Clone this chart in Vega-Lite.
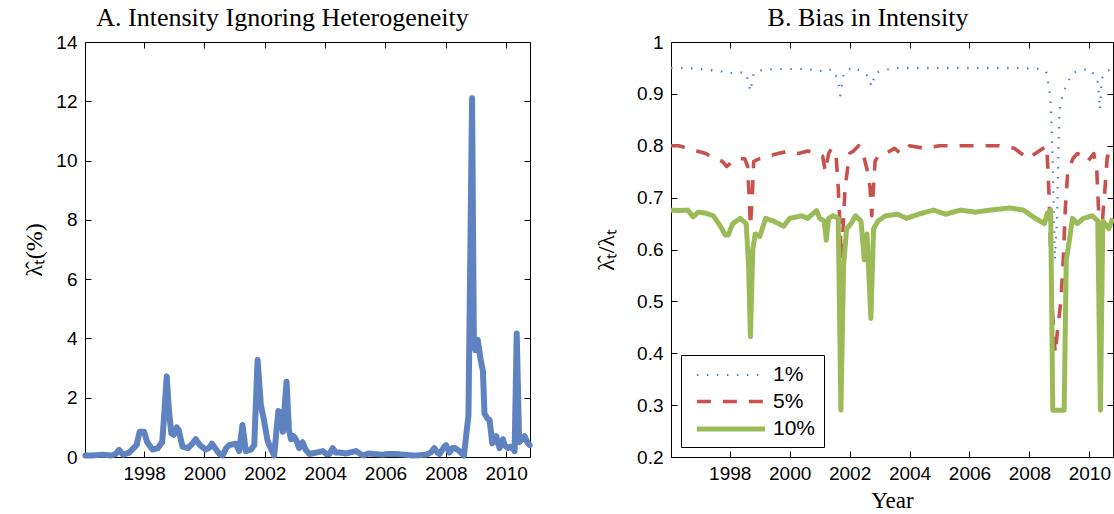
{
  "$schema": "https://vega.github.io/schema/vega-lite/v6.json",
  "description": "Intensity ignoring heterogeneity and bias in intensity, 1996-2010.",
  "background": "white",
  "padding": {"left": 22, "top": 4, "right": 4, "bottom": 0},
  "datasets": {
    "intensity": [
      {"t": 1996.05, "v": 0.05}, {"t": 1996.3, "v": 0.05}, {"t": 1996.6, "v": 0.08}, {"t": 1996.9, "v": 0.05},
      {"t": 1997.05, "v": 0.1}, {"t": 1997.17, "v": 0.24}, {"t": 1997.3, "v": 0.08}, {"t": 1997.5, "v": 0.15},
      {"t": 1997.65, "v": 0.3}, {"t": 1997.75, "v": 0.4}, {"t": 1997.85, "v": 0.85}, {"t": 1998.0, "v": 0.85},
      {"t": 1998.1, "v": 0.5}, {"t": 1998.28, "v": 0.25}, {"t": 1998.45, "v": 0.3}, {"t": 1998.6, "v": 0.5},
      {"t": 1998.67, "v": 1.5}, {"t": 1998.75, "v": 2.72}, {"t": 1998.82, "v": 1.6}, {"t": 1998.9, "v": 0.8},
      {"t": 1998.98, "v": 0.75}, {"t": 1999.08, "v": 1.0}, {"t": 1999.15, "v": 0.9}, {"t": 1999.27, "v": 0.35},
      {"t": 1999.45, "v": 0.3}, {"t": 1999.6, "v": 0.45}, {"t": 1999.71, "v": 0.6}, {"t": 1999.85, "v": 0.4},
      {"t": 2000.04, "v": 0.25}, {"t": 2000.15, "v": 0.3}, {"t": 2000.25, "v": 0.45}, {"t": 2000.35, "v": 0.3},
      {"t": 2000.5, "v": 0.1}, {"t": 2000.6, "v": 0.05}, {"t": 2000.72, "v": 0.3}, {"t": 2000.82, "v": 0.4},
      {"t": 2001.04, "v": 0.45}, {"t": 2001.15, "v": 0.2}, {"t": 2001.26, "v": 1.08}, {"t": 2001.37, "v": 0.2},
      {"t": 2001.54, "v": 0.25}, {"t": 2001.65, "v": 0.4}, {"t": 2001.76, "v": 3.27}, {"t": 2001.87, "v": 1.75},
      {"t": 2001.98, "v": 1.2}, {"t": 2002.08, "v": 0.6}, {"t": 2002.15, "v": 0.4}, {"t": 2002.31, "v": 0.05},
      {"t": 2002.45, "v": 1.55}, {"t": 2002.53, "v": 1.5}, {"t": 2002.6, "v": 0.85}, {"t": 2002.72, "v": 2.54},
      {"t": 2002.8, "v": 0.9}, {"t": 2002.87, "v": 0.6}, {"t": 2002.95, "v": 0.7}, {"t": 2003.03, "v": 0.6},
      {"t": 2003.14, "v": 0.3}, {"t": 2003.25, "v": 0.5}, {"t": 2003.35, "v": 0.25}, {"t": 2003.48, "v": 0.1},
      {"t": 2003.7, "v": 0.15}, {"t": 2003.92, "v": 0.2}, {"t": 2004.05, "v": 0.1}, {"t": 2004.14, "v": 0.1},
      {"t": 2004.25, "v": 0.3}, {"t": 2004.35, "v": 0.15}, {"t": 2004.47, "v": 0.15}, {"t": 2004.7, "v": 0.12},
      {"t": 2005.02, "v": 0.2}, {"t": 2005.25, "v": 0.05}, {"t": 2005.45, "v": 0.12}, {"t": 2005.63, "v": 0.1},
      {"t": 2005.9, "v": 0.08}, {"t": 2006.1, "v": 0.1}, {"t": 2006.35, "v": 0.1}, {"t": 2006.6, "v": 0.08},
      {"t": 2006.9, "v": 0.05}, {"t": 2007.1, "v": 0.06}, {"t": 2007.35, "v": 0.08}, {"t": 2007.5, "v": 0.15},
      {"t": 2007.62, "v": 0.3}, {"t": 2007.72, "v": 0.15}, {"t": 2007.79, "v": 0.1}, {"t": 2007.95, "v": 0.35},
      {"t": 2008.01, "v": 0.4}, {"t": 2008.12, "v": 0.15}, {"t": 2008.22, "v": 0.3}, {"t": 2008.3, "v": 0.3},
      {"t": 2008.45, "v": 0.2}, {"t": 2008.6, "v": 0.05}, {"t": 2008.75, "v": 1.4}, {"t": 2008.87, "v": 12.1},
      {"t": 2008.93, "v": 3.8}, {"t": 2008.98, "v": 3.6}, {"t": 2009.06, "v": 3.95}, {"t": 2009.15, "v": 3.3},
      {"t": 2009.23, "v": 2.9}, {"t": 2009.28, "v": 1.47}, {"t": 2009.38, "v": 1.3}, {"t": 2009.45, "v": 1.25},
      {"t": 2009.54, "v": 0.46}, {"t": 2009.6, "v": 0.6}, {"t": 2009.67, "v": 0.7}, {"t": 2009.72, "v": 0.5},
      {"t": 2009.78, "v": 0.3}, {"t": 2009.84, "v": 0.45}, {"t": 2009.89, "v": 0.6}, {"t": 2009.95, "v": 0.4},
      {"t": 2010.06, "v": 0.3}, {"t": 2010.15, "v": 0.35}, {"t": 2010.22, "v": 0.3}, {"t": 2010.28, "v": 0.2},
      {"t": 2010.35, "v": 4.17}, {"t": 2010.43, "v": 0.5}, {"t": 2010.52, "v": 0.6}, {"t": 2010.61, "v": 0.7},
      {"t": 2010.7, "v": 0.5}, {"t": 2010.78, "v": 0.4}
    ],
    "bias": [
      {"s": "1%", "t": 1996.04, "v": 0.95}, {"s": "1%", "t": 1996.5, "v": 0.95}, {"s": "1%", "t": 1997.0, "v": 0.948},
      {"s": "1%", "t": 1997.5, "v": 0.945}, {"s": "1%", "t": 1997.9, "v": 0.942}, {"s": "1%", "t": 1998.0, "v": 0.94},
      {"s": "1%", "t": 1998.3, "v": 0.942}, {"s": "1%", "t": 1998.55, "v": 0.94}, {"s": "1%", "t": 1998.69, "v": 0.905},
      {"s": "1%", "t": 1998.8, "v": 0.94}, {"s": "1%", "t": 1999.0, "v": 0.945}, {"s": "1%", "t": 1999.5, "v": 0.948},
      {"s": "1%", "t": 2000.0, "v": 0.948}, {"s": "1%", "t": 2000.5, "v": 0.948}, {"s": "1%", "t": 2001.0, "v": 0.945},
      {"s": "1%", "t": 2001.2, "v": 0.942}, {"s": "1%", "t": 2001.4, "v": 0.948}, {"s": "1%", "t": 2001.6, "v": 0.93},
      {"s": "1%", "t": 2001.69, "v": 0.897}, {"s": "1%", "t": 2001.8, "v": 0.94}, {"s": "1%", "t": 2002.1, "v": 0.952},
      {"s": "1%", "t": 2002.4, "v": 0.943}, {"s": "1%", "t": 2002.6, "v": 0.935}, {"s": "1%", "t": 2002.74, "v": 0.914},
      {"s": "1%", "t": 2002.85, "v": 0.94}, {"s": "1%", "t": 2003.1, "v": 0.945}, {"s": "1%", "t": 2003.5, "v": 0.95},
      {"s": "1%", "t": 2004.5, "v": 0.95}, {"s": "1%", "t": 2005.5, "v": 0.95}, {"s": "1%", "t": 2006.5, "v": 0.95},
      {"s": "1%", "t": 2007.5, "v": 0.95}, {"s": "1%", "t": 2008.4, "v": 0.948}, {"s": "1%", "t": 2008.56, "v": 0.943},
      {"s": "1%", "t": 2008.7, "v": 0.895}, {"s": "1%", "t": 2008.78, "v": 0.767}, {"s": "1%", "t": 2008.85, "v": 0.58},
      {"s": "1%", "t": 2008.92, "v": 0.655}, {"s": "1%", "t": 2009.0, "v": 0.869}, {"s": "1%", "t": 2009.1, "v": 0.895},
      {"s": "1%", "t": 2009.25, "v": 0.92}, {"s": "1%", "t": 2009.45, "v": 0.94}, {"s": "1%", "t": 2009.7, "v": 0.946},
      {"s": "1%", "t": 2010.0, "v": 0.948}, {"s": "1%", "t": 2010.2, "v": 0.935}, {"s": "1%", "t": 2010.3, "v": 0.92},
      {"s": "1%", "t": 2010.35, "v": 0.87}, {"s": "1%", "t": 2010.42, "v": 0.93}, {"s": "1%", "t": 2010.6, "v": 0.945},
      {"s": "1%", "t": 2010.78, "v": 0.946},
      {"s": "5%", "t": 1996.04, "v": 0.8}, {"s": "5%", "t": 1996.3, "v": 0.8}, {"s": "5%", "t": 1996.6, "v": 0.795},
      {"s": "5%", "t": 1996.9, "v": 0.79}, {"s": "5%", "t": 1997.2, "v": 0.785}, {"s": "5%", "t": 1997.5, "v": 0.775},
      {"s": "5%", "t": 1997.75, "v": 0.77}, {"s": "5%", "t": 1997.9, "v": 0.76}, {"s": "5%", "t": 1998.0, "v": 0.765},
      {"s": "5%", "t": 1998.2, "v": 0.775}, {"s": "5%", "t": 1998.5, "v": 0.775}, {"s": "5%", "t": 1998.6, "v": 0.76},
      {"s": "5%", "t": 1998.65, "v": 0.7}, {"s": "5%", "t": 1998.69, "v": 0.645}, {"s": "5%", "t": 1998.75, "v": 0.7},
      {"s": "5%", "t": 1998.8, "v": 0.77}, {"s": "5%", "t": 1999.0, "v": 0.775}, {"s": "5%", "t": 1999.3, "v": 0.78},
      {"s": "5%", "t": 1999.6, "v": 0.785}, {"s": "5%", "t": 2000.0, "v": 0.79}, {"s": "5%", "t": 2000.3, "v": 0.785},
      {"s": "5%", "t": 2000.6, "v": 0.79}, {"s": "5%", "t": 2000.9, "v": 0.785}, {"s": "5%", "t": 2001.1, "v": 0.78},
      {"s": "5%", "t": 2001.19, "v": 0.75}, {"s": "5%", "t": 2001.3, "v": 0.785}, {"s": "5%", "t": 2001.4, "v": 0.795},
      {"s": "5%", "t": 2001.55, "v": 0.78}, {"s": "5%", "t": 2001.62, "v": 0.72}, {"s": "5%", "t": 2001.73, "v": 0.58},
      {"s": "5%", "t": 2001.85, "v": 0.72}, {"s": "5%", "t": 2002.0, "v": 0.785}, {"s": "5%", "t": 2002.13, "v": 0.79},
      {"s": "5%", "t": 2002.3, "v": 0.8}, {"s": "5%", "t": 2002.45, "v": 0.785}, {"s": "5%", "t": 2002.6, "v": 0.75},
      {"s": "5%", "t": 2002.68, "v": 0.72}, {"s": "5%", "t": 2002.74, "v": 0.665}, {"s": "5%", "t": 2002.85, "v": 0.77},
      {"s": "5%", "t": 2002.95, "v": 0.78}, {"s": "5%", "t": 2003.2, "v": 0.785}, {"s": "5%", "t": 2003.5, "v": 0.795},
      {"s": "5%", "t": 2003.7, "v": 0.785}, {"s": "5%", "t": 2004.0, "v": 0.8}, {"s": "5%", "t": 2004.5, "v": 0.795},
      {"s": "5%", "t": 2005.0, "v": 0.8}, {"s": "5%", "t": 2005.5, "v": 0.8}, {"s": "5%", "t": 2006.0, "v": 0.8},
      {"s": "5%", "t": 2006.5, "v": 0.8}, {"s": "5%", "t": 2007.0, "v": 0.8}, {"s": "5%", "t": 2007.5, "v": 0.795},
      {"s": "5%", "t": 2007.95, "v": 0.775}, {"s": "5%", "t": 2008.2, "v": 0.785}, {"s": "5%", "t": 2008.58, "v": 0.8},
      {"s": "5%", "t": 2008.66, "v": 0.7}, {"s": "5%", "t": 2008.75, "v": 0.5}, {"s": "5%", "t": 2008.86, "v": 0.4},
      {"s": "5%", "t": 2008.95, "v": 0.45}, {"s": "5%", "t": 2009.05, "v": 0.5}, {"s": "5%", "t": 2009.13, "v": 0.58},
      {"s": "5%", "t": 2009.2, "v": 0.68}, {"s": "5%", "t": 2009.28, "v": 0.75}, {"s": "5%", "t": 2009.45, "v": 0.775},
      {"s": "5%", "t": 2009.6, "v": 0.785}, {"s": "5%", "t": 2009.8, "v": 0.78}, {"s": "5%", "t": 2009.95, "v": 0.77},
      {"s": "5%", "t": 2010.15, "v": 0.785}, {"s": "5%", "t": 2010.25, "v": 0.75}, {"s": "5%", "t": 2010.33, "v": 0.65},
      {"s": "5%", "t": 2010.4, "v": 0.63}, {"s": "5%", "t": 2010.5, "v": 0.7}, {"s": "5%", "t": 2010.6, "v": 0.78},
      {"s": "5%", "t": 2010.78, "v": 0.775},
      {"s": "10%", "t": 1996.04, "v": 0.676}, {"s": "10%", "t": 1996.3, "v": 0.675}, {"s": "10%", "t": 1996.6, "v": 0.676},
      {"s": "10%", "t": 1996.78, "v": 0.663}, {"s": "10%", "t": 1996.95, "v": 0.672}, {"s": "10%", "t": 1997.2, "v": 0.67},
      {"s": "10%", "t": 1997.45, "v": 0.665}, {"s": "10%", "t": 1997.7, "v": 0.644}, {"s": "10%", "t": 1997.85, "v": 0.628},
      {"s": "10%", "t": 1997.95, "v": 0.628}, {"s": "10%", "t": 1998.1, "v": 0.65}, {"s": "10%", "t": 1998.35, "v": 0.66},
      {"s": "10%", "t": 1998.55, "v": 0.65}, {"s": "10%", "t": 1998.63, "v": 0.567}, {"s": "10%", "t": 1998.69, "v": 0.432},
      {"s": "10%", "t": 1998.77, "v": 0.6}, {"s": "10%", "t": 1998.85, "v": 0.63}, {"s": "10%", "t": 1999.0, "v": 0.625},
      {"s": "10%", "t": 1999.2, "v": 0.66}, {"s": "10%", "t": 1999.45, "v": 0.655}, {"s": "10%", "t": 1999.8, "v": 0.645},
      {"s": "10%", "t": 2000.0, "v": 0.66}, {"s": "10%", "t": 2000.4, "v": 0.665}, {"s": "10%", "t": 2000.6, "v": 0.66},
      {"s": "10%", "t": 2000.9, "v": 0.675}, {"s": "10%", "t": 2001.0, "v": 0.66}, {"s": "10%", "t": 2001.15, "v": 0.655},
      {"s": "10%", "t": 2001.22, "v": 0.618}, {"s": "10%", "t": 2001.3, "v": 0.66}, {"s": "10%", "t": 2001.45, "v": 0.665},
      {"s": "10%", "t": 2001.62, "v": 0.66}, {"s": "10%", "t": 2001.71, "v": 0.29}, {"s": "10%", "t": 2001.8, "v": 0.57},
      {"s": "10%", "t": 2001.9, "v": 0.64}, {"s": "10%", "t": 2002.05, "v": 0.65}, {"s": "10%", "t": 2002.2, "v": 0.665},
      {"s": "10%", "t": 2002.38, "v": 0.655}, {"s": "10%", "t": 2002.49, "v": 0.58}, {"s": "10%", "t": 2002.58, "v": 0.63},
      {"s": "10%", "t": 2002.71, "v": 0.467}, {"s": "10%", "t": 2002.8, "v": 0.64}, {"s": "10%", "t": 2002.95, "v": 0.655},
      {"s": "10%", "t": 2003.2, "v": 0.665}, {"s": "10%", "t": 2003.6, "v": 0.668}, {"s": "10%", "t": 2003.9, "v": 0.66},
      {"s": "10%", "t": 2004.3, "v": 0.668}, {"s": "10%", "t": 2004.8, "v": 0.676}, {"s": "10%", "t": 2005.2, "v": 0.668},
      {"s": "10%", "t": 2005.7, "v": 0.676}, {"s": "10%", "t": 2006.2, "v": 0.672}, {"s": "10%", "t": 2006.7, "v": 0.676},
      {"s": "10%", "t": 2007.33, "v": 0.68}, {"s": "10%", "t": 2007.8, "v": 0.676}, {"s": "10%", "t": 2008.2, "v": 0.66},
      {"s": "10%", "t": 2008.5, "v": 0.65}, {"s": "10%", "t": 2008.6, "v": 0.67}, {"s": "10%", "t": 2008.71, "v": 0.676},
      {"s": "10%", "t": 2008.78, "v": 0.29}, {"s": "10%", "t": 2009.16, "v": 0.29}, {"s": "10%", "t": 2009.23, "v": 0.58},
      {"s": "10%", "t": 2009.33, "v": 0.616}, {"s": "10%", "t": 2009.44, "v": 0.66}, {"s": "10%", "t": 2009.6, "v": 0.65},
      {"s": "10%", "t": 2009.8, "v": 0.66}, {"s": "10%", "t": 2010.1, "v": 0.665}, {"s": "10%", "t": 2010.28, "v": 0.655},
      {"s": "10%", "t": 2010.37, "v": 0.29}, {"s": "10%", "t": 2010.45, "v": 0.655}, {"s": "10%", "t": 2010.65, "v": 0.64},
      {"s": "10%", "t": 2010.78, "v": 0.66}
    ]
  },
  "hconcat": [
    {
      "width": 445,
      "height": 415,
      "title": {"text": "A. Intensity Ignoring Heterogeneity", "frame": "group", "dx": -25},
      "data": {"name": "intensity"},
      "layer": [
        {
          "mark": {"type": "line", "color": "#5f82c0", "strokeWidth": 6, "strokeJoin": "round", "strokeCap": "round"},
          "encoding": {
            "x": {"field": "t", "type": "quantitative", "scale": {"domain": [1996.04, 2010.79], "nice": false, "zero": false},
                  "axis": {"title": null, "values": [1998, 2000, 2002, 2004, 2006, 2008, 2010], "format": "d", "labelPadding": 13}},
            "y": {"field": "v", "type": "quantitative", "scale": {"domain": [0, 14], "nice": false},
                  "axis": {"title": "λ̂ₜ(%)", "titlePadding": 9, "values": [0, 2, 4, 6, 8, 10, 12, 14], "format": "d"}}
          }
        },
        {
          "mark": {"type": "line", "opacity": 0},
          "encoding": {
            "x": {"field": "t", "type": "quantitative", "axis": {"orient": "top", "title": null, "labels": false, "values": [1998, 2000, 2002, 2004, 2006, 2008, 2010]}},
            "y": {"field": "v", "type": "quantitative", "axis": {"orient": "right", "title": null, "labels": false, "values": [0, 2, 4, 6, 8, 10, 12, 14]}}
          }
        }
      ],
      "resolve": {"axis": {"x": "independent", "y": "independent"}}
    },
    {
      "width": 442,
      "height": 415,
      "title": {"text": "B. Bias in Intensity", "frame": "group", "dx": -24},
      "data": {"name": "bias"},
      "layer": [
        {
          "mark": {"type": "line", "strokeJoin": "round"},
          "encoding": {
            "x": {"field": "t", "type": "quantitative", "scale": {"domain": [1996.04, 2010.79], "nice": false, "zero": false},
                  "axis": {"title": "Year", "titlePadding": 6, "titleFontSize": 23, "values": [1998, 2000, 2002, 2004, 2006, 2008, 2010], "format": "d", "labelPadding": 13}},
            "y": {"field": "v", "type": "quantitative", "scale": {"domain": [0.2, 1], "nice": false, "zero": false},
                  "axis": {"title": "λ̂ₜ/λₜ", "titlePadding": 18, "values": [0.2, 0.3, 0.4, 0.5, 0.6, 0.7, 0.8, 0.9, 1], "format": "~g"}},
            "color": {"field": "s", "type": "nominal", "title": null,
                      "scale": {"domain": ["1%", "5%", "10%"], "range": ["#4f7fc8", "#c8504d", "#9bbb59"]}},
            "strokeDash": {"field": "s", "type": "nominal", "title": null,
                           "scale": {"domain": ["1%", "5%", "10%"], "range": [[1.5, 8.5], [14, 12], [1, 0]]}},
            "strokeWidth": {"field": "s", "type": "nominal", "title": null,
                            "scale": {"domain": ["1%", "5%", "10%"], "range": [2.2, 5, 4]}},
            "order": {"field": "t", "type": "quantitative"}
          }
        },
        {
          "mark": {"type": "line", "opacity": 0},
          "encoding": {
            "x": {"field": "t", "type": "quantitative", "axis": {"orient": "top", "title": null, "labels": false, "values": [1998, 2000, 2002, 2004, 2006, 2008, 2010]}},
            "y": {"field": "v", "type": "quantitative", "axis": {"orient": "right", "title": null, "labels": false, "values": [0.2, 0.3, 0.4, 0.5, 0.6, 0.7, 0.8, 0.9, 1]}},
            "detail": {"field": "s"}
          }
        }
      ],
      "resolve": {"axis": {"x": "independent", "y": "independent"}}
    }
  ],
  "spacing": 60,
  "resolve": {
    "scale": {"color": "independent", "strokeDash": "independent", "strokeWidth": "independent"},
    "legend": {"color": "independent", "strokeDash": "independent", "strokeWidth": "independent"}
  },
  "config": {
    "view": {"stroke": "black", "strokeWidth": 1},
    "axis": {
      "grid": false, "domain": false, "tickColor": "black", "tickSize": -6, "tickWidth": 1,
      "labelFont": "Liberation Sans", "labelFontSize": 19, "labelColor": "black", "labelPadding": 14,
      "titleFont": "Liberation Serif", "titleFontSize": 24, "titleFontWeight": "normal", "titleColor": "black"
    },
    "title": {"font": "Liberation Serif", "fontSize": 26, "fontWeight": "normal", "color": "black", "offset": 2},
    "legend": {
      "orient": "bottom-left", "offset": 10, "strokeColor": "black", "fillColor": "white", "padding": 8,
      "symbolType": "M-3.25,0H3.25", "symbolSize": 441, "symbolStrokeWidth": 4, "symbolOffset": 29, "labelOffset": 29,
      "labelFont": "Liberation Sans", "labelFontSize": 21, "labelColor": "black", "rowPadding": 4
    }
  }
}
